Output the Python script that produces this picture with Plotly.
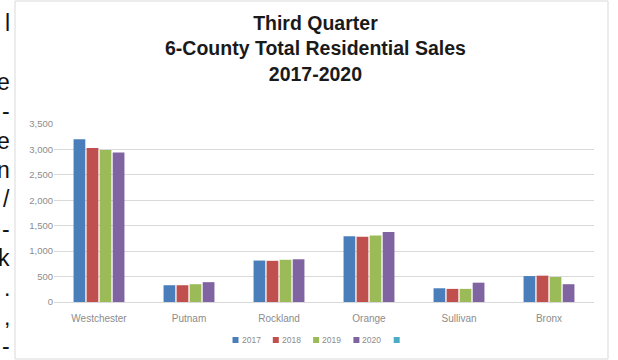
import plotly.graph_objects as go

# ---- data ----
counties = ["Westchester", "Putnam", "Rockland", "Orange", "Sullivan", "Bronx"]
years = ["2017", "2018", "2019", "2020"]
sales_2017 = [3200, 330, 815, 1295, 270, 510]
sales_2018 = [3030, 330, 810, 1285, 258, 518]
sales_2019 = [2990, 350, 830, 1310, 258, 492]
sales_2020 = [2940, 390, 840, 1375, 380, 350]
series = [sales_2017, sales_2018, sales_2019, sales_2020]
colors = ["#4a7ebb", "#c0504d", "#9bbb59", "#8064a2"]
extra_color = "#4bacc6"
y_ticks = [0, 500, 1000, 1500, 2000, 2500, 3000, 3500]
title_lines = ["Third Quarter", "6-County Total Residential Sales", "2017-2020"]
side_chars = ["l", "", "e", "-", "e", "n", "/", "-", "k", ".", ",", "-"]

W, H = 618, 360
ML, MR, MT, MB = 54, 24, 124, 58
PW, PH = W - ML - MR, H - MT - MB


def px(x):
    return (x - ML) / PW


def py(y):
    return (H - MB - y) / PH


fig = go.Figure()
for name, vals, col in zip(years, series, colors):
    fig.add_trace(go.Bar(x=counties, y=vals, name=name, marker_color=col,
                         marker_line_width=0, showlegend=False))

shapes = []
annotations = []

# chart box
shapes.append(dict(type="rect", xref="paper", yref="paper",
                   x0=px(15), x1=px(608), y0=py(359), y1=py(1),
                   line=dict(color="#d9d9d9", width=1), layer="below"))

# manual legend
leg_names = years + [""]
leg_colors = colors + [extra_color]
for i, (n, c) in enumerate(zip(leg_names, leg_colors)):
    cx = 235.5 + i * 40.3
    shapes.append(dict(type="rect", xref="paper", yref="paper",
                       x0=px(cx - 3), x1=px(cx + 3), y0=py(343), y1=py(337),
                       fillcolor=c, line=dict(width=0)))
    if n:
        annotations.append(dict(text=n, xref="paper", yref="paper",
                                x=px(cx + 4), y=py(340), xanchor="left",
                                yanchor="middle", showarrow=False,
                                font=dict(family="Liberation Sans", size=8.5,
                                          color="#8c8c8c")))

# title as centered multi-line annotation
annotations.append(dict(text="<br>".join(title_lines), xref="paper", yref="paper",
                        x=px(315), y=py(48.5), xanchor="center", yanchor="middle",
                        showarrow=False, align="center",
                        font=dict(family="Liberation Sans", size=19.5,
                                  color="#1a1a1a", weight="bold")))

# clipped document text on the left edge
for i, ch in enumerate(side_chars):
    if not ch:
        continue
    annotations.append(dict(text=ch, xref="paper", yref="paper",
                            x=px(11), y=py(23 + i * 29.4), xanchor="right",
                            yanchor="middle", showarrow=False, borderpad=0,
                            font=dict(family="Liberation Sans", size=23,
                                      color="#111111")))

fig.update_layout(
    width=W, height=H, autosize=False,
    margin=dict(l=ML, r=MR, t=MT, b=MB),
    paper_bgcolor="white", plot_bgcolor="white",
    barmode="group", bargap=0.42, bargroupgap=0.1,
    xaxis=dict(showline=True, linecolor="#d9d9d9", linewidth=1,
               ticks="outside", ticklen=7, tickcolor="rgba(0,0,0,0)",
               tickfont=dict(family="Liberation Sans", size=10, color="#8c8c8c")),
    yaxis=dict(range=[0, 3500], tickvals=y_ticks, tickformat=",",
               showgrid=True, gridcolor="#d9d9d9", gridwidth=1,
               zeroline=False, ticks="",
               tickfont=dict(family="Liberation Sans", size=9.5, color="#8c8c8c")),
    shapes=shapes, annotations=annotations,
)

fig.write_html("out.html")
